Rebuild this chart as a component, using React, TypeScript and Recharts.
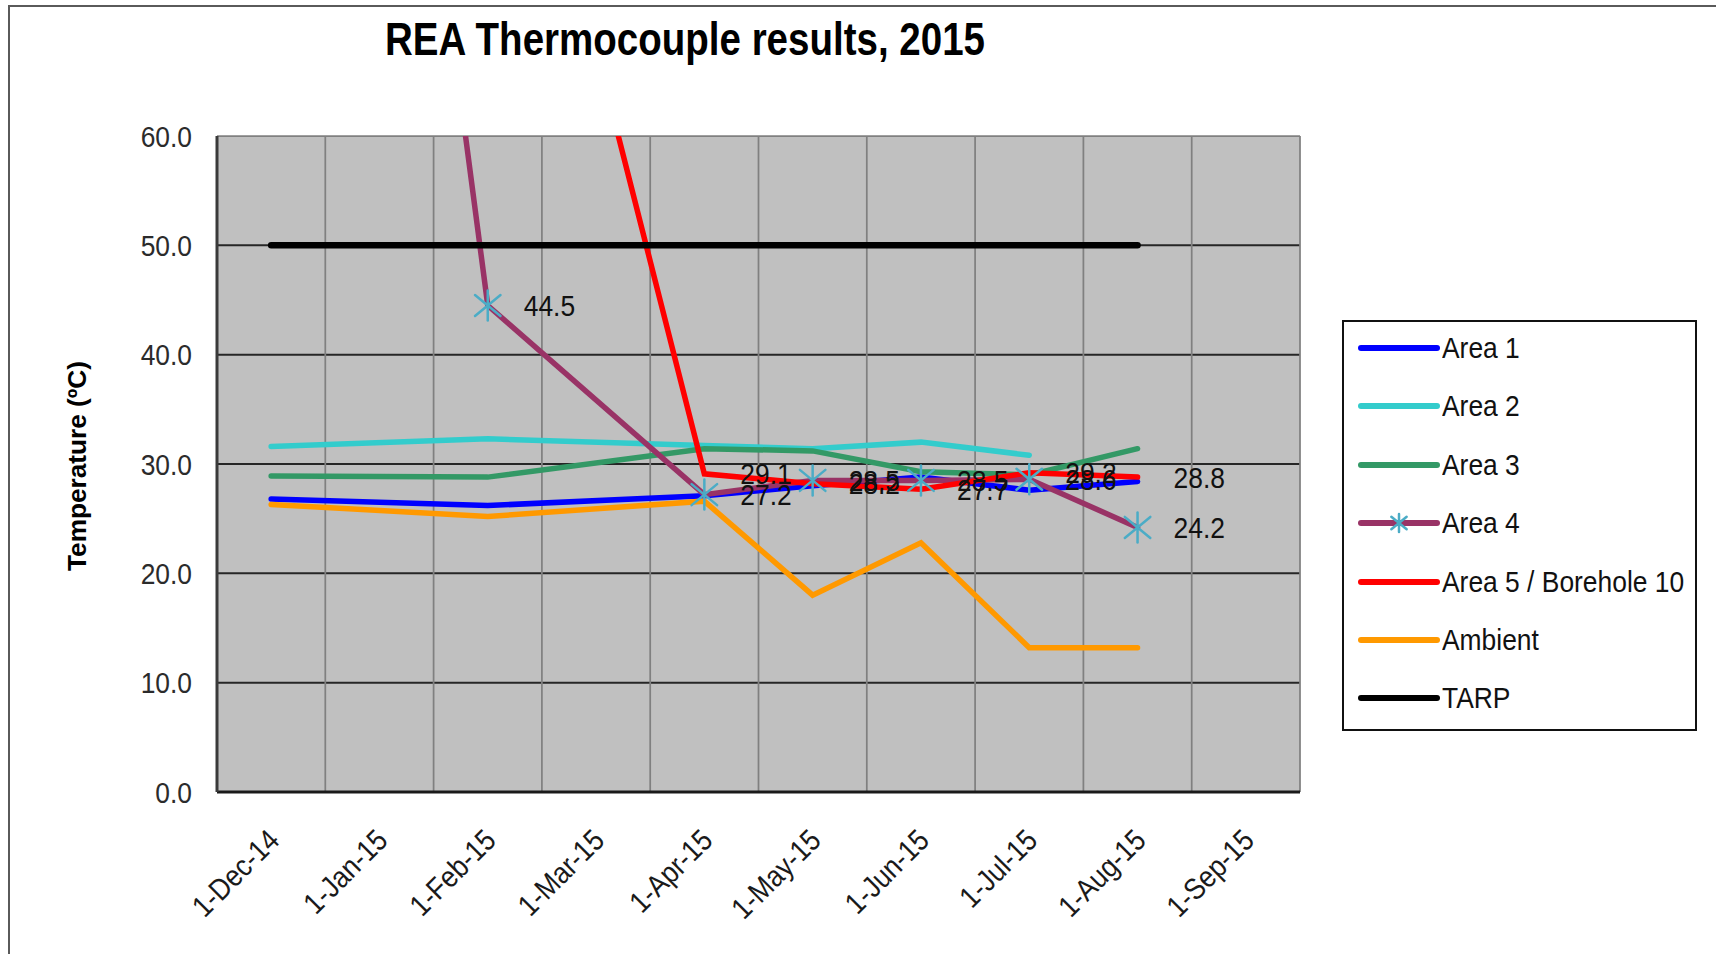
import React from "react";
import { LineChart, Line, XAxis, YAxis, CartesianGrid, Legend, LabelList } from "recharts";

const months = [
  "1-Dec-14",
  "1-Jan-15",
  "1-Feb-15",
  "1-Mar-15",
  "1-Apr-15",
  "1-May-15",
  "1-Jun-15",
  "1-Jul-15",
  "1-Aug-15",
  "1-Sep-15",
];

// readings per month (null = no reading that month)
const area1 = [26.8, null, 26.2, null, 27.1, 28.0, 28.8, 27.6, 28.4, null];
const area2 = [31.6, null, 32.3, null, 31.7, 31.4, 32.0, 30.8, null, null];
const area3 = [28.9, null, 28.8, null, 31.4, 31.2, 29.3, 29.0, 31.4, null];
const area4 = [null, 120.0, 44.5, null, 27.2, 28.5, 28.5, 28.6, 24.2, null];
const area5 = [null, null, null, 68.0, 29.1, 28.2, 27.7, 29.2, 28.8, null];
const ambient = [26.3, null, 25.2, null, 26.6, 18.0, 22.8, 13.2, 13.2, null];
const tarp = [50, 50, 50, 50, 50, 50, 50, 50, 50, null];

const yTicks = [0, 10, 20, 30, 40, 50, 60];
const Y_MAX = 60;

const rows = months.map((m, i) => ({
  idx: i,
  month: m,
  area1: area1[i],
  area2: area2[i],
  area3: area3[i],
  area4: area4[i],
  area5: area5[i],
  ambient: ambient[i],
  tarp: tarp[i],
}));

const series = [
  { key: "area1", name: "Area 1", color: "#0000FF", width: 5.5 },
  { key: "area2", name: "Area 2", color: "#33CCCC", width: 5.5 },
  { key: "area3", name: "Area 3", color: "#339966", width: 5.5 },
  { key: "area4", name: "Area 4", color: "#993366", width: 5.5, star: true },
  { key: "area5", name: "Area 5 / Borehole 10", color: "#FF0000", width: 5.5 },
  { key: "ambient", name: "Ambient", color: "#FF9900", width: 5.5 },
  { key: "tarp", name: "TARP", color: "#000000", width: 6.5 },
];

const FONT = '"Liberation Sans", Arial, Helvetica, sans-serif';
const STAR = "#4BACC6";

// boundaries between the month columns
const xBounds = [-0.5, ...months.map((_, i) => i + 0.5)];

function toPx(axis: any, v: number, fallback: number) {
  const s = axis && axis.scale;
  let r: any;
  if (typeof s === "function") r = s(v);
  else if (s && typeof s.map === "function") r = s.map(v);
  return typeof r === "number" && isFinite(r) ? r : fallback;
}

function StarShape({ cx, cy, r = 15 }: { cx: number; cy: number; r?: number }) {
  const dx = r * 0.85;
  const dy = r * 0.7;
  return (
    <g stroke={STAR} strokeWidth={2.5} strokeLinecap="round">
      <line x1={cx} y1={cy - r} x2={cx} y2={cy + r} />
      <line x1={cx - dx} y1={cy - dy} x2={cx + dx} y2={cy + dy} />
      <line x1={cx - dx} y1={cy + dy} x2={cx + dx} y2={cy - dy} />
    </g>
  );
}

const renderStar = (props: any) => {
  const { cx, cy, value, index } = props;
  const v = Array.isArray(value) ? value[1] : value;
  if (v == null || cx == null || cy == null || v > Y_MAX) return <g key={`s-${index}`} />;
  return (
    <g key={`s-${index}`}>
      <StarShape cx={cx} cy={cy} />
    </g>
  );
};

const renderValueLabel = (props: any) => {
  const vb = props.viewBox || {};
  const x = props.x ?? vb.x;
  const y = props.y ?? vb.y;
  const v = props.value;
  if (v == null || x == null || y == null || Number(v) > Y_MAX) return null;
  return (
    <text
      transform={`translate(${x + 36},${y}) scale(0.88,1)`}
      fontSize={30}
      fontFamily={FONT}
      fill="#111"
      dominantBaseline="central"
    >
      {Number(v).toFixed(1)}
    </text>
  );
};

function XTick(props: any) {
  const { x, y, payload } = props;
  return (
    <text
      transform={`translate(${x + 10},${y + 42}) rotate(-45) scale(0.88,1)`}
      textAnchor="end"
      fontSize={30}
      fontFamily={FONT}
      fill="#1a1a1a"
    >
      {months[payload.value]}
    </text>
  );
}

function YTick(props: any) {
  const { x, y, payload } = props;
  return (
    <text
      transform={`translate(${x},${y}) scale(0.88,1)`}
      textAnchor="end"
      dominantBaseline="central"
      fontSize={30}
      fontFamily={FONT}
      fill="#2b2b2b"
    >
      {Number(payload.value).toFixed(1)}
    </text>
  );
}

const renderYTitle = (props: any) => {
  const vb = props.viewBox || { x: 0, y: 136, width: 217, height: 656 };
  const x = vb.x + 77;
  const y = vb.y + vb.height / 2 + 2;
  return (
    <text
      transform={`translate(${x},${y}) rotate(-90)`}
      textAnchor="middle"
      dominantBaseline="central"
      fontSize={26}
      fontWeight="bold"
      fontFamily={FONT}
      fill="#000"
      textLength={210}
      lengthAdjust="spacingAndGlyphs"
    >
      Temperature (ºC)
    </text>
  );
};

const renderLegend = () => (
  <div
    style={{
      position: "relative",
      width: "100%",
      height: "100%",
      border: "2px solid #111",
      boxSizing: "border-box",
      background: "#fff",
      fontFamily: FONT,
    }}
  >
    {series.map((s, i) => (
      <div
        key={s.key}
        style={{
          position: "absolute",
          left: 0,
          top: 6 + i * 58.4,
          height: 40,
          display: "flex",
          alignItems: "center",
        }}
      >
        <svg width={98} height={40} style={{ display: "block" }}>
          <line x1={17} y1={20} x2={93} y2={20} stroke={s.color} strokeWidth={6} strokeLinecap="round" />
          {s.star ? <StarShape cx={55} cy={20} r={9} /> : null}
        </svg>
        <span
          style={{
            fontSize: 30,
            color: "#111",
            whiteSpace: "nowrap",
            display: "inline-block",
            transform: "scaleX(0.88)",
            transformOrigin: "left center",
          }}
        >
          {s.name}
        </span>
      </div>
    ))}
  </div>
);

export default function App() {
  return (
    <div
      style={{
        position: "absolute",
        left: 0,
        top: 0,
        width: 1716,
        height: 954,
        overflow: "hidden",
        background: "#fff",
        fontFamily: FONT,
      }}
    >
      <div
        style={{
          position: "absolute",
          left: 8,
          top: 5,
          width: 1800,
          height: 1000,
          border: "2px solid #5a5a5a",
          boxSizing: "border-box",
        }}
      />
      <div style={{ position: "absolute", left: 0, top: 0 }}>
        <LineChart
          width={1716}
          height={954}
          data={rows}
          margin={{ top: 136, right: 416, bottom: 42, left: 0 }}
        >
          <CartesianGrid
            vertical={false}
            fill="#C0C0C0"
            stroke="#262626"
            strokeWidth={2}
            horizontalCoordinatesGenerator={({ yAxis, offset }: any) =>
              yTicks
                .filter((t) => t < Y_MAX)
                .map((t) => toPx(yAxis, t, offset.top + offset.height * (1 - t / Y_MAX)))
            }
          />
          <CartesianGrid
            stroke="#808080"
            strokeWidth={1.75}
            verticalCoordinatesGenerator={({ xAxis, offset }: any) =>
              xBounds.map((b) => toPx(xAxis, b, offset.left + (offset.width * (b + 0.5)) / months.length))
            }
            horizontalCoordinatesGenerator={({ yAxis, offset }: any) => [toPx(yAxis, Y_MAX, offset.top)]}
          />
          <XAxis
            type="number"
            dataKey="idx"
            domain={[-0.5, months.length - 0.5]}
            ticks={months.map((_, i) => i)}
            interval={0}
            height={120}
            tickLine={false}
            axisLine={{ stroke: "#1a1a1a", strokeWidth: 3 }}
            tick={<XTick />}
          />
          <YAxis
            type="number"
            domain={[0, Y_MAX]}
            ticks={yTicks}
            allowDataOverflow
            width={217}
            tickLine={false}
            tickMargin={19}
            axisLine={{ stroke: "#3a3a3a", strokeWidth: 3 }}
            tick={<YTick />}
            label={{ content: renderYTitle }}
          />
          <Legend
            layout="horizontal"
            verticalAlign="middle"
            align="center"
            width={355}
            height={411}
            content={renderLegend}
            wrapperStyle={{ left: 1342, top: 320, width: 355, height: 411 }}
          />
          {series.map((s) => (
            <Line
              key={s.key}
              type="linear"
              dataKey={s.key}
              name={s.name}
              stroke={s.color}
              strokeWidth={s.width}
              strokeLinecap="round"
              connectNulls
              dot={s.star ? renderStar : false}
              activeDot={false}
              isAnimationActive={false}
            >
              {s.key === "area4" || s.key === "area5" ? (
                <LabelList dataKey={s.key} content={renderValueLabel} />
              ) : null}
            </Line>
          ))}
        </LineChart>
      </div>
      <svg
        width={1716}
        height={954}
        style={{ position: "absolute", left: 0, top: 0, pointerEvents: "none" }}
      >
        <text
          x={685}
          y={55}
          textAnchor="middle"
          fontSize={46}
          fontWeight="bold"
          fontFamily={FONT}
          fill="#000"
          textLength={600}
          lengthAdjust="spacingAndGlyphs"
        >
          REA Thermocouple results, 2015
        </text>
      </svg>
    </div>
  );
}
